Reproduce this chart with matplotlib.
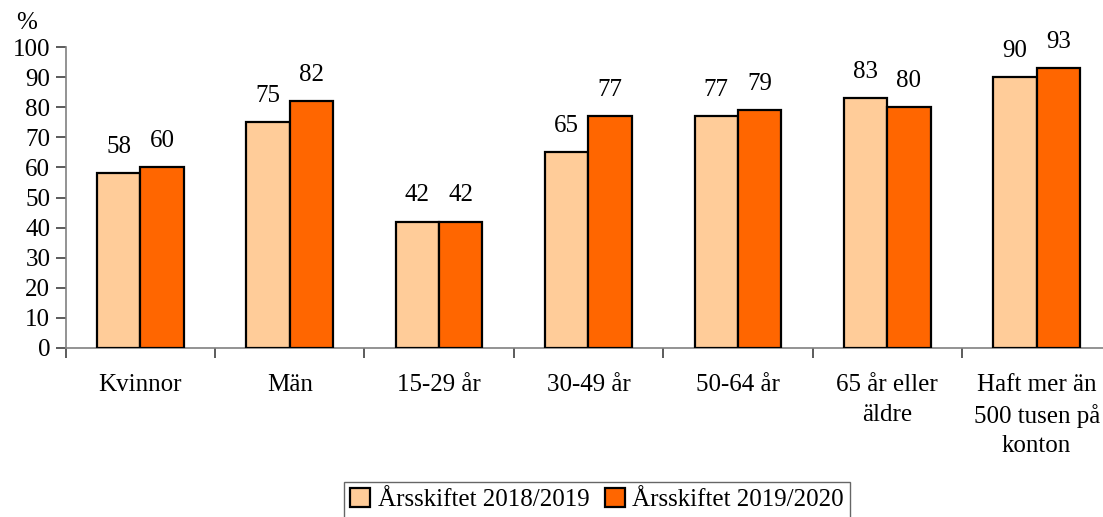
import matplotlib
matplotlib.use("Agg")
import matplotlib.pyplot as plt
import numpy as np

categories = ["Kvinnor", "Män", "15-29 år", "30-49 år", "50-64 år",
              "65 år eller\näldre", "Haft mer än\n500 tusen på\nkonton"]
series_2018 = [58, 75, 42, 65, 77, 83, 90]
series_2019 = [60, 82, 42, 77, 79, 80, 93]
series_names = ["Årsskiftet 2018/2019", "Årsskiftet 2019/2020"]
yticks = list(range(0, 101, 10))

plt.rcParams['font.family'] = ['Liberation Serif', 'DejaVu Serif']
FS = 18

fig = plt.figure(figsize=(11.03, 5.17), dpi=100)
ax = fig.add_axes([65.6/1103, 1 - 348/517, 1045.8/1103, 301/517])

x = np.arange(len(categories))
w = 0.29
b1 = ax.bar(x - w/2, series_2018, w, color="#FFCC99", edgecolor="black", linewidth=1.6,
            label=series_names[0], zorder=3)
b2 = ax.bar(x + w/2, series_2019, w, color="#FF6600", edgecolor="black", linewidth=1.6,
            label=series_names[1], zorder=3)

for bars, vals in ((b1, series_2018), (b2, series_2019)):
    for r, v in zip(bars, vals):
        ax.annotate(f"{v}", (r.get_x() + r.get_width()/2, v), xytext=(0, 11),
                    textcoords="offset points", ha="center", va="bottom", fontsize=FS)

ax.set_xlim(-0.5, len(categories) - 0.5)
ax.set_ylim(0, 100)
ax.set_yticks(yticks)
ax.set_yticklabels([str(t) for t in yticks], fontsize=FS)
ax.set_xticks(x)
ax.set_xticklabels(categories, fontsize=FS, linespacing=1.42, va="top")
ax.tick_params(axis="x", length=0, pad=19)
ax.set_xticks(np.arange(-0.5, len(categories) + 0.5, 1), minor=True)
ax.tick_params(axis="x", which="minor", length=7, width=1.2, color="#404040")
ax.tick_params(axis="y", length=7, width=1.2, color="#404040", pad=4)

for s in ("top", "right"):
    ax.spines[s].set_visible(False)
for s in ("left", "bottom"):
    ax.spines[s].set_color("#808080")
    ax.spines[s].set_linewidth(1.2)

fig.text(27/1103, 1 - 23/517, "%", fontsize=FS, ha="center", va="center")

leg = fig.legend(handles=[b1, b2], labels=series_names, loc="upper center",
                 bbox_to_anchor=(597/1103, 1 - 482/517), ncol=2, fontsize=FS,
                 frameon=True, fancybox=False, edgecolor="#404040",
                 handlelength=0.8, handleheight=0.8, handletextpad=0.3,
                 columnspacing=0.6, borderpad=0.25, borderaxespad=0)
leg.get_frame().set_linewidth(1.0)

fig.savefig("out.png", dpi=100)
